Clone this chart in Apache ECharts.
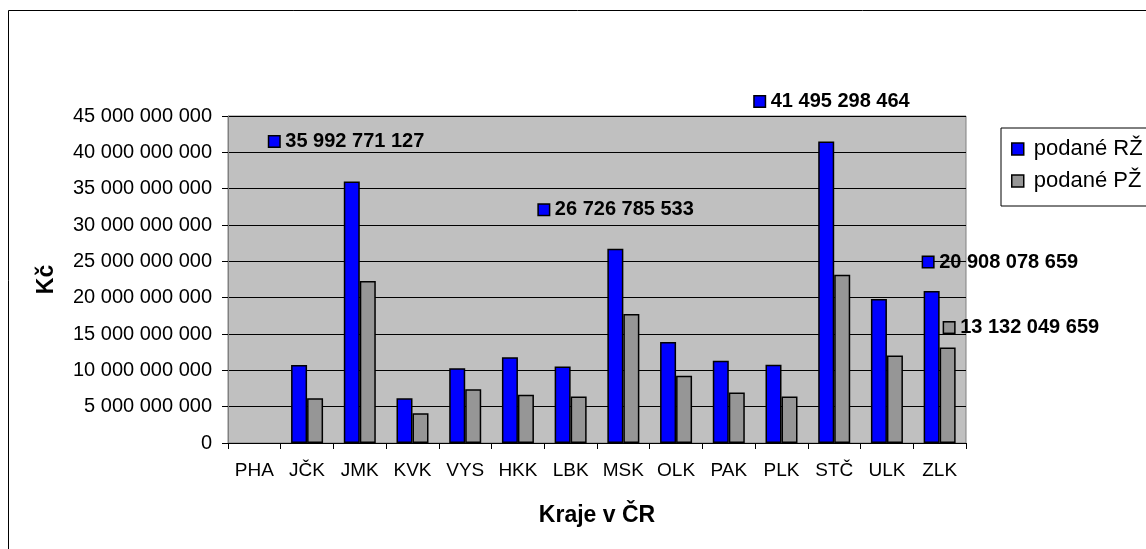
<!DOCTYPE html>
<html>
<head>
<meta charset="utf-8">
<script src="https://cdn.jsdelivr.net/npm/echarts@6/dist/echarts.min.js"></script>
<style>
  html, body { margin: 0; padding: 0; background: #fff; }
  #chart { width: 1146px; height: 549px; }
</style>
</head>
<body>
<div id="chart"></div>
<script>
// kraje
const categories = ["PHA", "JČK", "JMK", "KVK", "VYS", "HKK", "LBK", "MSK", "OLK", "PAK", "PLK", "STČ", "ULK", "ZLK"];
// podané RŽ (Kč)
const podaneRZ = [0, 10730000000, 35992771127, 6150000000, 10280000000, 11800000000, 10530000000, 26726785533, 13890000000, 11310000000, 10770000000, 41495298464, 19800000000, 20908078659];
// podané PŽ (Kč)
const podanePZ = [0, 6150000000, 22300000000, 4090000000, 7390000000, 6640000000, 6410000000, 17740000000, 9250000000, 6960000000, 6410000000, 23140000000, 12040000000, 13132049659];
const yTicks = [0, 5000000000, 10000000000, 15000000000, 20000000000, 25000000000, 30000000000, 35000000000, 40000000000, 45000000000];

const BLUE = "#0000ff";
const GRAY = "#969696";

const fmt = (v) => String(Math.round(v)).replace(/\B(?=(\d{3})+(?!\d))/g, " ");

// posunuté popisky (jako v Excelu)
const rzLabelOffsets = { 2: [-5, -30], 7: [1, -29], 11: [6, -30], 13: [69, -19] };
const pzLabelOffsets = { 13: [74, -10] };

const makeLabel = (offset, color) => ({
  show: true,
  position: "top",
  distance: 0,
  offset: offset,
  formatter: (p) => "{sq|}{t|" + fmt(p.value) + "}",
  rich: {
    sq: { width: 10, height: 10, backgroundColor: color, borderColor: "#000", borderWidth: 1.5 },
    t: { fontFamily: "Liberation Sans, Arial", fontWeight: "bold", fontSize: 20, color: "#000", padding: [0, 0, 0, 6] },
  },
});

const buildData = (values, offsets, color) =>
  values.map((v, i) => {
    const item = { value: v };
    if (offsets[i]) item.label = makeLabel(offsets[i], color);
    if (v === 0) item.itemStyle = { borderWidth: 0 }; // PHA bez dat
    return item;
  });

const chart = echarts.init(document.getElementById("chart"));

const option = {
  animation: false,
  backgroundColor: "#fff",
  textStyle: { fontFamily: "Liberation Sans, Arial", color: "#000" },
  graphic: [
    {
      type: "rect",
      shape: { x: 8.5, y: 10.5, width: 1200, height: 600 },
      style: { fill: "none", stroke: "#000", lineWidth: 1 },
      z: 100,
    },
  ],
  grid: {
    left: 228,
    top: 116,
    right: 180,
    bottom: 106,
    show: true,
    backgroundColor: "#c0c0c0",
    borderColor: "#808080",
    borderWidth: 1,
  },
  legend: {
    orient: "vertical",
    left: 1001,
    top: 128,
    padding: [10, 40, 14, 10],
    itemGap: 10,
    itemWidth: 12,
    itemHeight: 12,
    borderColor: "#000",
    borderWidth: 1,
    backgroundColor: "#fff",
    icon: "rect",
    textStyle: { fontFamily: "Liberation Sans, Arial", fontSize: 22, color: "#000", padding: [0, 0, 0, 5] },
    data: [
      { name: "podané RŽ", itemStyle: { borderColor: "#000", borderWidth: 1.5 } },
      { name: "podané PŽ", itemStyle: { borderColor: "#000", borderWidth: 1.5 } },
    ],
  },
  xAxis: {
    type: "category",
    data: categories,
    name: "Kraje v ČR",
    nameLocation: "middle",
    nameGap: 61,
    nameTextStyle: { fontFamily: "Liberation Sans, Arial", fontWeight: "bold", fontSize: 23, color: "#000" },
    axisLine: { lineStyle: { color: "#000", width: 1 } },
    axisTick: { show: true, interval: 0, length: 6, lineStyle: { color: "#000" } },
    axisLabel: { interval: 0, fontSize: 19, color: "#000", margin: 18 },
  },
  yAxis: {
    type: "value",
    min: yTicks[0],
    max: yTicks[yTicks.length - 1],
    interval: yTicks[1] - yTicks[0],
    name: "Kč",
    nameLocation: "middle",
    nameRotate: 90,
    nameGap: 170,
    nameTextStyle: { fontFamily: "Liberation Sans, Arial", fontWeight: "bold", fontSize: 23, color: "#000" },
    axisLine: { show: true, lineStyle: { color: "#808080", width: 1 } },
    axisTick: { show: true, length: 6, lineStyle: { color: "#000" } },
    axisLabel: { fontSize: 20, color: "#000", margin: 16, formatter: (v) => fmt(v) },
    splitLine: { lineStyle: { color: "#000", width: 1 } },
  },
  series: [
    {
      name: "podané RŽ",
      type: "bar",
      barWidth: 16,
      barGap: "0%",
      itemStyle: { color: BLUE, borderColor: "#000", borderWidth: 1.5 },
      data: buildData(podaneRZ, rzLabelOffsets, BLUE),
    },
    {
      name: "podané PŽ",
      type: "bar",
      barWidth: 16,
      barGap: "0%",
      itemStyle: { color: GRAY, borderColor: "#000", borderWidth: 1.5 },
      data: buildData(podanePZ, pzLabelOffsets, GRAY),
    },
  ],
};

chart.setOption(option);
</script>
</body>
</html>
